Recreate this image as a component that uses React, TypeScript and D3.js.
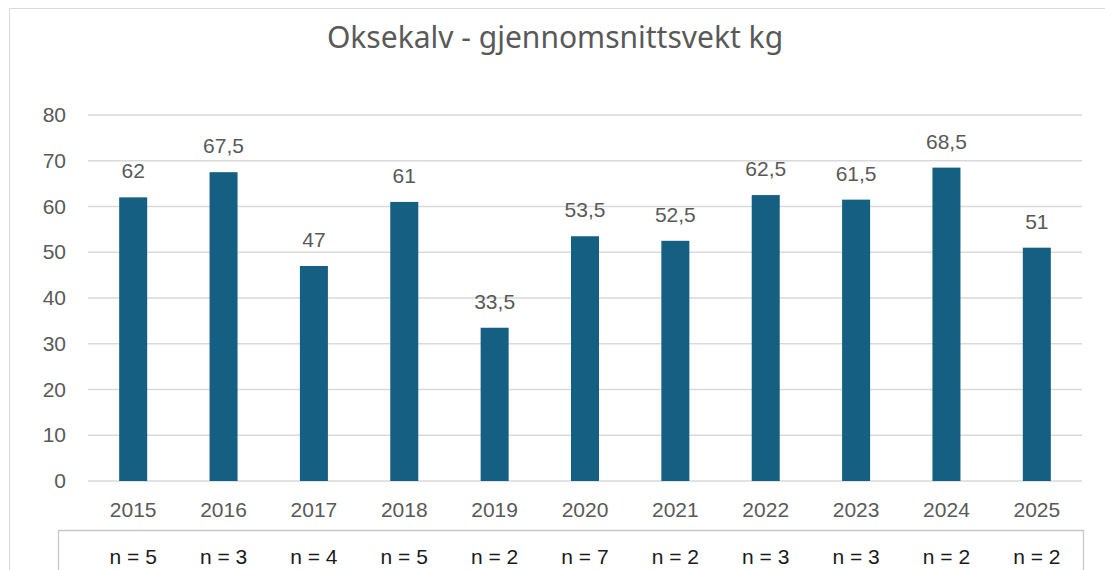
import * as d3 from 'd3'

const years = ['2015', '2016', '2017', '2018', '2019', '2020', '2021', '2022', '2023', '2024', '2025']
const weights = [62, 67.5, 47, 61, 33.5, 53.5, 52.5, 62.5, 61.5, 68.5, 51]
const counts = [5, 3, 4, 5, 2, 7, 2, 3, 3, 2, 2]
const yTicks = [0, 10, 20, 30, 40, 50, 60, 70, 80]

const W = 1105
const H = 570
const TEXT = '#595959'
const GRID = '#d9d9d9'
const BAR = '#156082'
const FONT = '"Liberation Sans", Arial, sans-serif'

export default function App() {
  // Plot area
  const margin = { top: 115, right: 23, bottom: 89, left: 88 }
  const plotW = W - margin.left - margin.right
  const plotH = H - margin.top - margin.bottom

  const x = d3.scaleBand().domain(years).range([0, plotW]).paddingInner(0.69).paddingOuter(0.345)
  const y = d3.scaleLinear().domain([0, 80]).range([plotH, 0])

  const fmt = (v: number) => String(v).replace('.', ',')

  return (
    <svg
      width={W}
      height={H}
      style={{ position: 'absolute', left: 0, top: 0, background: '#fff', display: 'block' }}
    >
      {/* Chart frame */}
      <line x1={9.5} x2={W} y1={8.5} y2={8.5} stroke={GRID} />
      <line x1={9.5} x2={9.5} y1={8.5} y2={H} stroke={GRID} />

      <text
        x={555}
        y={48}
        textAnchor="middle"
        fill={TEXT}
        fontFamily='"Noto Sans", "Open Sans", sans-serif'
        fontSize={30}
      >
        Oksekalv - gjennomsnittsvekt kg
      </text>

      <g transform={`translate(${margin.left},${margin.top})`}>
        {/* Gridlines + y labels */}
        {yTicks.map((t) => (
          <g key={t}>
            <line x1={0} x2={plotW} y1={y(t)} y2={y(t)} stroke={GRID} strokeWidth={1.3} />
            <text
              x={-22}
              y={y(t) + 7}
              textAnchor="end"
              fill={TEXT}
              fontFamily={FONT}
              fontSize={21}
            >
              {t}
            </text>
          </g>
        ))}

        {/* Bars */}
        {years.map((yr, i) => (
          <g key={yr}>
            <rect
              x={x(yr)}
              y={y(weights[i])}
              width={x.bandwidth()}
              height={plotH - y(weights[i])}
              fill={BAR}
            />
            <text
              x={(x(yr) ?? 0) + x.bandwidth() / 2}
              y={y(weights[i]) - 19}
              textAnchor="middle"
              fill={TEXT}
              fontFamily={FONT}
              fontSize={21}
            >
              {fmt(weights[i])}
            </text>
            <text
              x={(x(yr) ?? 0) + x.bandwidth() / 2}
              y={plotH + 36}
              textAnchor="middle"
              fill={TEXT}
              fontFamily={FONT}
              fontSize={21}
            >
              {yr}
            </text>
          </g>
        ))}
      </g>

      {/* n table */}
      <path d={`M58.5,${H} V530.5 H1083.5 V${H}`} fill="none" stroke="#c8c8c8" strokeWidth={1.3} />
      {years.map((yr, i) => (
        <text
          key={yr}
          x={margin.left + (x(yr) ?? 0) + x.bandwidth() / 2}
          y={564}
          textAnchor="middle"
          fill="#1a1a1a"
          fontFamily={FONT}
          fontSize={21}
        >
          {`n = ${counts[i]}`}
        </text>
      ))}
    </svg>
  )
}
